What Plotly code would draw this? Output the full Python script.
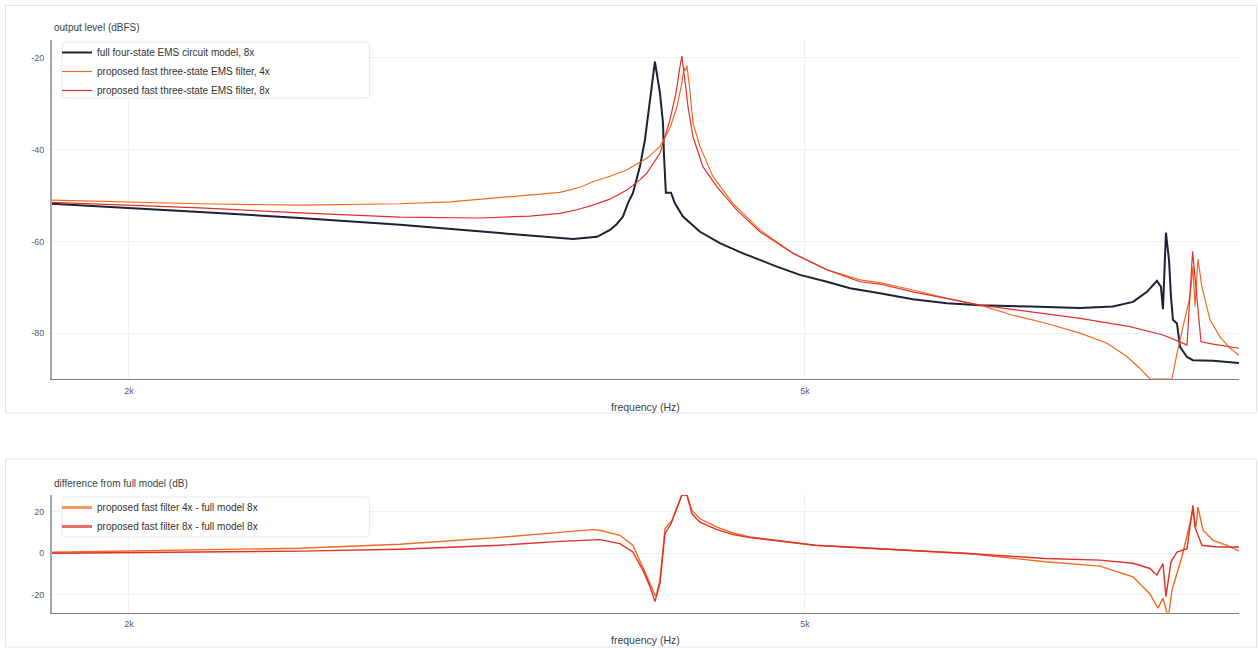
import math
import plotly.graph_objects as go

# ---------------- data ----------------
full_freq = [1802, 2000, 2202, 2522, 2888, 3307, 3587, 3651, 3772, 3839, 3875, 3907, 3934,
             3960, 3998, 4025, 4053, 4080, 4108, 4125, 4130, 4141, 4170, 4192, 4238, 4337,
             4456, 4597, 4814, 4966, 5152, 5315, 5513, 5687, 5788, 6061, 6339, 6783,
             7259, 7591, 7800, 7949, 8057, 8101, 8123, 8156, 8190, 8212, 8234, 8279,
             8313, 8392, 8460, 8693, 9005]
full_db = [-51.8, -52.7, -53.6, -54.9, -56.4, -58.2, -59.2, -59.5, -59.0, -57.5, -56.2, -54.6, -51.6,
           -49.5, -43.7, -37.9, -29.2, -20.8, -27.7, -34.2, -40.8, -49.4, -49.4, -51.7, -54.6, -57.9,
           -60.4, -62.6, -65.5, -67.3, -68.8, -70.2, -71.2, -72.0, -72.6, -73.5, -73.9, -74.2,
           -74.5, -74.2, -73.2, -71.0, -68.6, -69.9, -74.8, -58.1, -64.1, -72.1, -77.1, -77.9,
           -83.0, -85.2, -85.9, -86.0, -86.5]

fast4_freq = [1802, 2000, 2202, 2522, 2888, 3090, 3307, 3444, 3587, 3686, 3751, 3839, 3928,
              4036, 4108, 4164, 4204, 4232, 4244, 4252, 4261, 4278, 4296, 4337, 4414, 4535,
              4704, 4919, 5152, 5387, 5535, 5788, 6061, 6339, 6629, 6941, 7259, 7530, 7736,
              7874, 7981, 8223, 8279, 8347, 8426, 8460, 8483, 8518, 8564, 8658, 8776,
              8896, 9005]
fast4_db = [-51.0, -51.4, -51.8, -52.1, -51.8, -51.4, -50.5, -50.0, -49.3, -48.2, -47.0, -45.8, -44.4,
            -41.9, -39.3, -35.3, -30.6, -25.5, -22.2, -22.8, -21.7, -27.0, -34.2, -39.3, -45.9, -51.7,
            -57.5, -62.6, -66.2, -68.4, -69.0, -70.6, -72.4, -73.9, -76.1, -77.9, -80.0, -82.2, -85.1,
            -87.7, -90.0, -90.0, -84.4, -78.6, -72.1, -65.5, -74.2, -63.9, -69.9, -77.1, -80.8,
            -83.3, -84.8]

fast8_freq = [1802, 2000, 2202, 2522, 2888, 3219, 3444, 3587, 3671, 3751, 3839, 3928, 3998,
              4036, 4108, 4164, 4198, 4221, 4232, 4244, 4267, 4296, 4354, 4438, 4560, 4704,
              4919, 5152, 5387, 5535, 5788, 6339, 6783, 7259, 7768, 8123, 8313, 8392, 8456,
              8553, 8693, 9005]
fast8_db = [-51.5, -52.1, -52.7, -53.8, -54.7, -54.9, -54.5, -53.9, -53.1, -52.1, -50.8, -48.8, -46.6,
            -45.1, -40.8, -33.5, -27.7, -21.9, -19.6, -23.3, -30.6, -37.2, -43.7, -48.1, -53.2, -57.9,
            -62.6, -66.2, -68.8, -69.3, -71.0, -73.9, -75.3, -76.8, -78.6, -80.4, -81.9, -82.6, -62.2,
            -81.9, -82.4, -83.3]

diff4_freq = [1802, 2000, 2522, 2888, 3307, 3587, 3751, 3787, 3891, 3960, 4014, 4053,
              4080, 4086, 4108, 4136, 4175, 4232, 4261, 4290, 4337, 4438, 4535, 4641,
              5068, 5626, 6236, 6923, 7458, 7800, 7981, 8068, 8123, 8167, 8190, 8223,
              8335, 8415, 8460, 8495, 8518, 8576, 8693, 8859, 9005]
diff4_db = [0.5, 1.0, 2.4, 4.3, 7.6, 10.0, 11.3, 11.0, 8.6, 3.8, -6.5, -14.4,
            -20.0, -20.5, -12.9, 11.7, 15.7, 27.9, 27.9, 20.5, 16.5, 12.5, 9.7, 7.8,
            3.8, 1.8, -0.1, -4.1, -6.2, -11.3, -19.5, -26.3, -21.6, -28.4, -28.4, -17.6,
            -1.7, 12.5, 20.5, 12.5, 22.1, 11.0, 6.2, 3.8, 1.1]

diff8_freq = [1802, 2000, 2522, 2888, 3307, 3587, 3787, 3891, 3960, 4014, 4053, 4080,
              4108, 4136, 4170, 4232, 4261, 4290, 4337, 4438, 4535, 4641, 5068, 5626,
              6236, 6923, 7458, 7800, 7981, 8057, 8123, 8156, 8212, 8279, 8392, 8460,
              8483, 8564, 8740, 9005]
diff8_db = [0.0, 0.2, 1.0, 1.9, 3.8, 5.7, 6.5, 4.6, 0.6, -8.1, -16.0, -23.2,
            -14.4, 9.4, 14.1, 27.9, 27.9, 18.9, 14.9, 11.3, 8.9, 7.5, 3.8, 1.8,
            -0.1, -2.5, -3.3, -4.8, -7.3, -10.5, -4.9, -20.8, -4.1, 0.6, 2.2, 22.9,
            12.5, 3.8, 3.0, 3.0]

x_tick_vals = [2000, 5000]
x_tick_text = ["2k", "5k"]
top_tick_vals = [-20, -40, -60, -80]
top_tick_text = ["-20", "-40", "-60", "-80"]
bottom_tick_vals = [20, 0, -20]
bottom_tick_text = ["20", "0", "-20"]

names_top = ["full four-state EMS circuit model, 8x",
             "proposed fast three-state EMS filter, 4x",
             "proposed fast three-state EMS filter, 8x"]
names_bottom = ["proposed fast filter 4x - full model 8x",
                "proposed fast filter 8x - full model 8x"]

# ---------------- styling ----------------
W, H = 1258, 648
FONT = "Liberation Sans, Arial, Helvetica, sans-serif"
C_FULL = "#1b2233"
C_4X = "#f26a1e"
C_8X = "#e0302c"
GRID = "#eef0f3"


def px_x(p):
    return p / W


def px_y(p):
    return (H - p) / H


def rounded_rect(x0, y0, x1, y1, r=4):
    X = lambda v: px_x(v)
    Y = lambda v: px_y(v)
    return (f"M {X(x0 + r)},{Y(y0)} L {X(x1 - r)},{Y(y0)} "
            f"Q {X(x1)},{Y(y0)} {X(x1)},{Y(y0 + r)} L {X(x1)},{Y(y1 - r)} "
            f"Q {X(x1)},{Y(y1)} {X(x1 - r)},{Y(y1)} L {X(x0 + r)},{Y(y1)} "
            f"Q {X(x0)},{Y(y1)} {X(x0)},{Y(y1 - r)} L {X(x0)},{Y(y0 + r)} "
            f"Q {X(x0)},{Y(y0)} {X(x0 + r)},{Y(y0)} Z")


fig = go.Figure()

fig.add_trace(go.Scatter(x=full_freq, y=full_db, mode="lines", name=names_top[0],
                         line=dict(color=C_FULL, width=2), xaxis="x", yaxis="y", legend="legend"))
fig.add_trace(go.Scatter(x=fast4_freq, y=fast4_db, mode="lines", name=names_top[1],
                         line=dict(color=C_4X, width=1.2), xaxis="x", yaxis="y", legend="legend"))
fig.add_trace(go.Scatter(x=fast8_freq, y=fast8_db, mode="lines", name=names_top[2],
                         line=dict(color=C_8X, width=1.2), xaxis="x", yaxis="y", legend="legend"))

fig.add_trace(go.Scatter(x=diff4_freq, y=diff4_db, mode="lines", name=names_bottom[0],
                         line=dict(color=C_4X, width=1.4), xaxis="x2", yaxis="y2",
                         showlegend=False))
fig.add_trace(go.Scatter(x=diff8_freq, y=diff8_db, mode="lines", name=names_bottom[1],
                         line=dict(color=C_8X, width=1.4), xaxis="x2", yaxis="y2",
                         showlegend=False))
for nm, col in zip(names_bottom, [C_4X, C_8X]):
    fig.add_trace(go.Scatter(x=[None], y=[None], mode="lines", name=nm,
                             line=dict(color=col, width=3), opacity=0.7,
                             xaxis="x2", yaxis="y2", legend="legend2"))

xdom = [px_x(52), px_x(1239)]
xrange_log = [math.log10(1802), math.log10(9005)]

common_x = dict(type="log", range=xrange_log, tickvals=x_tick_vals, ticktext=x_tick_text,
                showgrid=True, gridcolor=GRID, gridwidth=1, zeroline=False,
                showline=True, linecolor="#7b818c", linewidth=1.2,
                ticks="outside", ticklen=3, tickcolor="rgba(0,0,0,0)",
                tickfont=dict(size=9, color="#555b66", family=FONT))
common_y = dict(showgrid=True, gridcolor=GRID, gridwidth=1, zeroline=False,
                showline=True, linecolor="#a3a8b0", linewidth=2,
                ticks="outside", ticklen=4, tickcolor="rgba(0,0,0,0)",
                tickfont=dict(size=9, color="#555b66", family=FONT))

legend_style = dict(xanchor="left", yanchor="top", bgcolor="rgba(0,0,0,0)", borderwidth=0,
                    font=dict(size=10, color="#333", family=FONT), tracegroupgap=0)

fig.update_layout(
    width=W, height=H,
    margin=dict(l=0, r=0, t=0, b=0),
    paper_bgcolor="white", plot_bgcolor="white",
    font=dict(family=FONT, color="#333"),
    xaxis=dict(domain=xdom, anchor="y", **common_x),
    yaxis=dict(domain=[px_y(379), px_y(40)], anchor="x", range=[-90, -16.1],
               tickvals=top_tick_vals, ticktext=top_tick_text, **common_y),
    xaxis2=dict(domain=xdom, anchor="y2", **common_x),
    yaxis2=dict(domain=[px_y(612.5), px_y(495)], anchor="x2", range=[-28.4, 27.9],
                tickvals=bottom_tick_vals, ticktext=bottom_tick_text, **common_y),
    legend=dict(x=px_x(57), y=px_y(38), **legend_style),
    legend2=dict(x=px_x(57), y=px_y(493), **legend_style),
    showlegend=True,
    shapes=[
        dict(type="rect", xref="paper", yref="paper", x0=px_x(5.5), x1=px_x(1256.5),
             y0=px_y(413), y1=px_y(5.5), line=dict(color="#e0e4ea", width=1), layer="below"),
        dict(type="rect", xref="paper", yref="paper", x0=px_x(5.5), x1=px_x(1256.5),
             y0=px_y(647), y1=px_y(459), line=dict(color="#e0e4ea", width=1), layer="below"),
        dict(type="path", xref="paper", yref="paper", path=rounded_rect(62, 42, 369.5, 98),
             fillcolor="white", line=dict(color="#e6e8ec", width=1), layer="above"),
        dict(type="path", xref="paper", yref="paper", path=rounded_rect(62, 497, 369.5, 537),
             fillcolor="white", line=dict(color="#e6e8ec", width=1), layer="above"),
    ],
    annotations=[
        dict(text="output level (dBFS)", xref="paper", yref="paper", x=px_x(52), y=px_y(28),
             xanchor="left", yanchor="middle", showarrow=False,
             font=dict(size=10, color="#3a3f4a", family=FONT)),
        dict(text="difference from full model (dB)", xref="paper", yref="paper",
             x=px_x(52), y=px_y(483), xanchor="left", yanchor="middle", showarrow=False,
             font=dict(size=10, color="#3a3f4a", family=FONT)),
        dict(text="frequency (Hz)", xref="paper", yref="paper", x=px_x(645.5), y=px_y(407),
             xanchor="center", yanchor="middle", showarrow=False,
             font=dict(size=10.5, color="#3a3f4a", family=FONT)),
        dict(text="frequency (Hz)", xref="paper", yref="paper", x=px_x(645.5), y=px_y(640),
             xanchor="center", yanchor="middle", showarrow=False,
             font=dict(size=10.5, color="#3a3f4a", family=FONT)),
    ],
)

fig.write_html("out.html", config={"displayModeBar": False},
               post_script="document.body.style.margin='0';document.body.style.overflow='hidden';")
